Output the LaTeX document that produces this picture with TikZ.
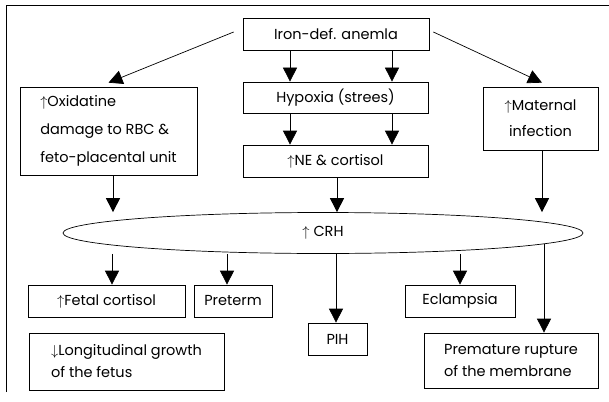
\documentclass[tikz,border=0pt]{standalone}
\usepackage{fontspec}
\setmainfont{Poppins}
\usetikzlibrary{arrows.meta,shapes.geometric}
\begin{document}
\begin{tikzpicture}[x=1pt,y=-1pt,
 box/.style={draw,line width=0.7pt,inner sep=0pt,font=\fontsize{14.5}{28}\selectfont,align=center},
 lbox/.style={box,align=left},
 arr/.style={line width=0.7pt,-{Triangle[length=14pt,width=14pt]}},
]
\useasboundingbox (0,0) rectangle (609,401);
\draw[line width=0.7pt] (6,392) -- (6,5) -- (609,5);
\node[box,minimum width=186pt,minimum height=32pt] (iron) at (336,34) {Iron-def. anemla};
\node[box,minimum width=185pt,minimum height=31pt] (hyp) at (335.5,97.5) {Hypoxia (strees)};
\node[box,minimum width=185pt,minimum height=32pt] (ne) at (335.5,161) {$\uparrow$NE \& cortisol};
\node[lbox,minimum width=177pt,minimum height=88pt] (ox) at (108.5,131) {$\uparrow$Oxidatine\\damage to RBC \&\\feto-placental unit};
\node[box,minimum width=115pt,minimum height=63pt,font=\fontsize{14.5}{26}\selectfont] (mat) at (540.5,118.5) {$\uparrow$Maternal\\infection};
\node[draw,ellipse,line width=0.7pt,minimum width=520pt,minimum height=41pt,inner sep=0pt,font=\fontsize{14.5}{16}\selectfont] (crh) at (323,233) {$\uparrow$ CRH};
\node[box,minimum width=157pt,minimum height=32pt] (fetal) at (106.5,301) {$\uparrow$Fetal cortisol};
\node[box,minimum width=78pt,minimum height=32pt] (pre) at (233,301) {Preterm};
\node[lbox,minimum width=195pt,minimum height=57pt,font=\fontsize{14.5}{22}\selectfont] (lon) at (126.5,361.5) {$\downarrow$Longitudinal growth\\of the fetus};
\node[box,minimum width=59pt,minimum height=32pt] (pih) at (337.5,339) {PIH};
\node[box,minimum width=110pt,minimum height=32pt] (ecl) at (460,301) {Eclampsia};
\node[lbox,minimum width=174pt,minimum height=55pt,font=\fontsize{14.5}{22}\selectfont] (prem) at (511,360.5) {Premature rupture\\of the membrane};
% top arrows
\draw[arr] ([xshift=-9pt,yshift=2pt]iron.west) -- ([yshift=4pt]ox.north);
\draw[arr] ([xshift=4pt,yshift=2pt]iron.east) -- ([xshift=1.5pt,yshift=4pt]mat.north);
\draw[arr] ([xshift=-46pt]iron.south) -- ([xshift=-45.5pt]hyp.north);
\draw[arr] ([xshift=56pt]iron.south) -- ([xshift=56.5pt]hyp.north);
\draw[arr] ([xshift=-45.5pt]hyp.south) -- ([xshift=-45.5pt]ne.north);
\draw[arr] ([xshift=56.5pt]hyp.south) -- ([xshift=56.5pt]ne.north);
\draw[arr] ([xshift=1.5pt]ne.south) -- ([xshift=1.5pt]ne.south |- crh.north);
\draw[arr] ([xshift=4.5pt]ox.south) -- ([xshift=4.5pt]ox.south |- crh.north);
\draw[arr] ([xshift=1.5pt]mat.south) -- ([xshift=1.5pt]mat.south |- crh.north);
% bottom arrows
\draw[arr] ([xshift=5.5pt]fetal.north |- crh.south) -- ([xshift=5.5pt]fetal.north);
\draw[arr] ([xshift=-6pt]pre.north |- crh.south) -- ([xshift=-6pt]pre.north);
\draw[arr] ([xshift=-1.5pt]pih.north |- crh.south) -- ([xshift=-1.5pt]pih.north);
\draw[arr] (ecl.north |- crh.south) -- (ecl.north);
\draw[arr] ([xshift=221pt,yshift=-10.5pt]crh.center) -- ([xshift=33pt]prem.north);
\end{tikzpicture}
\end{document}
